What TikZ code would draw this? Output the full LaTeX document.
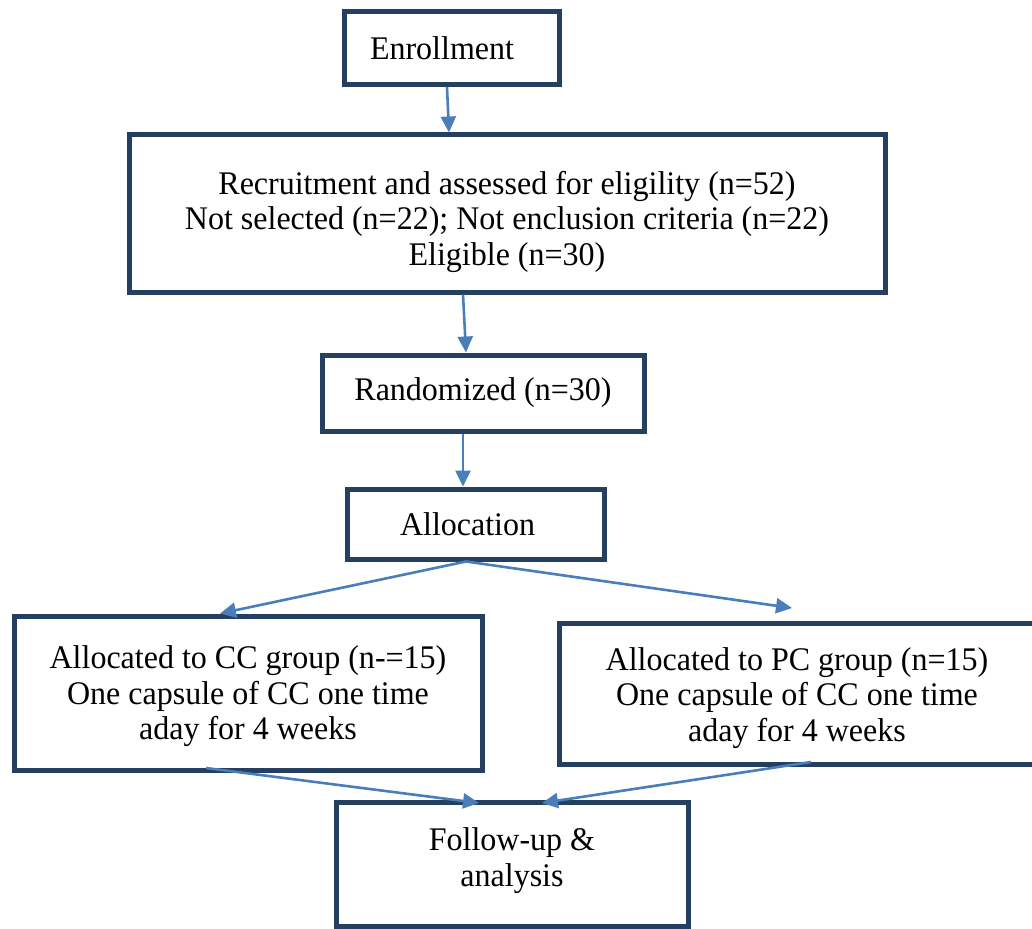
\documentclass[tikz,border=0pt]{standalone}
\usepackage{fontspec}
\setmainfont{Liberation Serif}[FakeStretch=0.97]
\usetikzlibrary{arrows.meta,calc}
\definecolor{boxc}{HTML}{243F60}
\definecolor{arrc}{HTML}{4A7EBB}
\begin{document}
\begin{tikzpicture}[x=1pt,y=-1pt,
  box/.style={draw=boxc,line width=5pt,rectangle,inner sep=0pt,align=center,
    font=\fontsize{33}{35.5}\selectfont},
  arr/.style={draw=arrc,line width=2.6pt,-{Triangle[length=16pt,width=15pt]}}]
\useasboundingbox (0,0) rectangle (1032,928);
\node[box,minimum width=215,minimum height=73,text width=163,align=left] (enr) at (451.5,48) {Enrollment};
\node[box,minimum width=756,minimum height=157] (rec) at (507,213.5)
  {\rule{0pt}{40pt}Recruitment and assessed for eligility (n=52)\\Not selected (n=22); Not enclusion criteria (n=22)\\Eligible (n=30)};
\node[box,minimum width=322,minimum height=76] (rand) at (483,393) {Randomized (n=30)};
\node[box,minimum width=257,minimum height=70,text width=151,align=left] (alloc) at (475.5,524) {Allocation};
\node[box,minimum width=468,minimum height=154] (cc) at (248,693)
  {\rule{0pt}{30pt}Allocated to CC group (n-=15)\\One capsule of CC one time\\aday for 4 weeks};
\node[box,minimum width=475,minimum height=141] (pc) at (797,693.5)
  {\rule{0pt}{32pt}Allocated to PC group (n=15)\\One capsule of CC one time\\aday for 4 weeks};
\node[box,minimum width=352,minimum height=124] (fu) at (512,864)
  {Follow-up \&\\analysis\rule[-14pt]{0pt}{0pt}};
\coordinate (ap) at ([xshift=-9.5pt]alloc.south);
\draw[arr] ([xshift=-4.5pt]enr.south) -- ([xshift=-58pt]rec.north);
\draw[arr] ([xshift=-44pt]rec.south) -- ([xshift=-17pt]rand.north);
\draw[arr] ([xshift=-20pt]rand.south) -- ([xshift=-12.5pt]alloc.north);
\draw[arr] (ap) -- ([xshift=-28pt]cc.north);
\draw[arr] (ap) -- ([xshift=-5pt,yshift=12.5pt]pc.north);
\draw[arr] ([xshift=-42pt,yshift=4.5pt]cc.south) -- ([xshift=-33pt,yshift=-3.5pt]fu.north);
\draw[arr] ([xshift=14pt,yshift=4.5pt]pc.south) -- ([xshift=30pt,yshift=-3.5pt]fu.north);
\end{tikzpicture}
\end{document}
